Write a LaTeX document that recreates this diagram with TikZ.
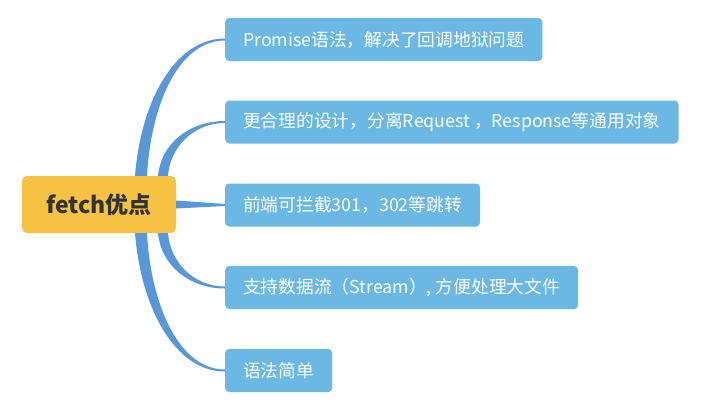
\documentclass[tikz,border=0pt]{standalone}
\usepackage{fontspec}
\setmainfont{Noto Sans CJK SC}
\usetikzlibrary{calc}

\definecolor{rootfill}{RGB}{246,194,68}
\definecolor{leaffill}{RGB}{106,184,227}
\definecolor{branchblue}{RGB}{88,152,216}
\definecolor{roottext}{RGB}{51,51,51}

\begin{document}
\begin{tikzpicture}[
    x=1pt, y=-1pt,
    root/.style={fill=rootfill,rounded corners=5pt,minimum width=154pt,minimum height=57pt,
        text=roottext,font=\fontsize{23}{27}\selectfont\bfseries},
    leaf/.style={fill=leaffill,rounded corners=4pt,anchor=west,minimum height=43pt,
        inner xsep=18pt,text=white,font=\fontsize{17.75}{21}\selectfont},
    branch/.style={fill=branchblue}
]
\useasboundingbox (0,0) rectangle (707,413);

% Root
\node[root] (R) at (99,204.5) {fetch优点};

% Leaves
\node[leaf] (L1) at (225,39.5) {Promise语法，解决了回调地狱问题};
\node[leaf] (L2) at (225,122) {更合理的设计，分离Request ，Response等通用对象};
\node[leaf] (L3) at (225,205) {前端可拦截301，302等跳转};
\node[leaf] (L4) at (225,287.5) {支持数据流（Stream）, 方便处理大文件};
\node[leaf] (L5) at (225,370.5) {语法简单};

% Branches (tapered)
\fill[branch] ($(R.north)+(36,0)$) .. controls +(6,-75) and +(-50,0) .. ($(L1.west)+(0,-1)$)
    -- ($(L1.west)+(0,1)$) .. controls +(-46,0) and +(4,-72) .. ($(R.north)+(48,0)$) -- cycle;
\fill[branch] ($(R.north)+(59,0)$) .. controls +(3,-32) and +(-36,0) .. ($(L2.west)+(0,-1)$)
    -- ($(L2.west)+(0,1)$) .. controls +(-32,0) and +(2,-28) .. ($(R.north)+(69,0)$) -- cycle;
\fill[branch] ($(R.east)+(0,-4)$) -- ($(L3.west)+(0,-1)$) -- ($(L3.west)+(0,1)$)
    -- ($(R.east)+(0,4)$) -- cycle;
\fill[branch] ($(R.south)+(59,0)$) .. controls +(3,32) and +(-36,0) .. ($(L4.west)+(0,1)$)
    -- ($(L4.west)+(0,-1)$) .. controls +(-32,0) and +(2,28) .. ($(R.south)+(69,0)$) -- cycle;
\fill[branch] ($(R.south)+(36,0)$) .. controls +(6,75) and +(-50,0) .. ($(L5.west)+(0,1)$)
    -- ($(L5.west)+(0,-1)$) .. controls +(-46,0) and +(4,72) .. ($(R.south)+(48,0)$) -- cycle;

\end{tikzpicture}
\end{document}
